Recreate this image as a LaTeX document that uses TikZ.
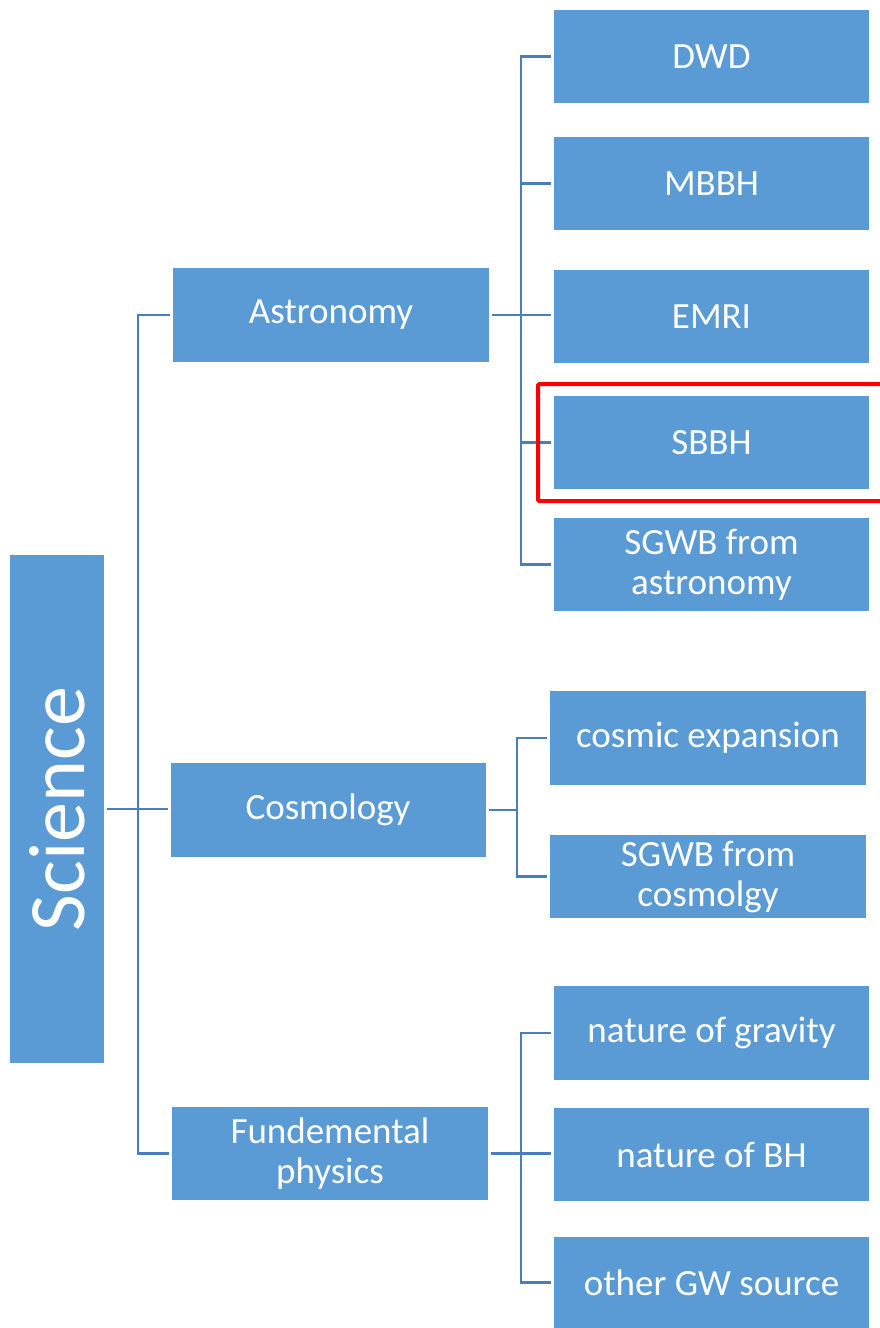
\documentclass[tikz,border=0pt]{standalone}
\usepackage{fontspec}
\setmainfont{Carlito}
\definecolor{boxblue}{RGB}{91,155,213}
\definecolor{linkblue}{RGB}{74,126,187}
\definecolor{hired}{RGB}{255,0,0}
\tikzset{
  leaf/.style={fill=boxblue, draw=none, text=white, inner sep=0pt, outer sep=3pt,
    minimum width=316pt, minimum height=94pt, align=center,
    font=\fontsize{37}{40}\selectfont},
  link/.style={draw=linkblue, line width=2.2pt},
}
\begin{document}
\begin{tikzpicture}[x=1pt,y=-1pt]
\useasboundingbox (0,0) rectangle (880,1328);
\clip (0,0) rectangle (880,1328);
% root
\node[leaf, minimum width=94pt, minimum height=508pt] (sci) at (57,809)
  {\rotatebox{90}{\fontsize{80}{96}\selectfont Science}};
% level 1
\node[leaf] (ast) at (331,315) {Astronomy};
\node[leaf, minimum width=315pt] (cos) at (328,810) {Cosmology};
\node[leaf, minimum height=93pt] (fun) at (330,1153.5) {Fundemental\\physics};
% astronomy children
\node[leaf, minimum width=315pt, minimum height=93pt] (dwd) at (711.5,56.5) {DWD};
\node[leaf, minimum width=315pt, minimum height=93pt] (mbbh) at (711.5,183.5) {MBBH};
\node[leaf, minimum width=315pt, minimum height=93pt] (emri) at (711.5,316.5) {EMRI};
\node[leaf, minimum width=315pt, minimum height=93pt] (sbbh) at (711.5,442.5) {SBBH};
\node[leaf, minimum width=315pt, minimum height=93pt] (sgwba) at (711.5,564.5) {SGWB from\\astronomy};
% cosmology children
\node[leaf] (cexp) at (708,738) {cosmic expansion};
\node[leaf, minimum height=83pt] (sgwbc) at (708,876.5) {SGWB from\\cosmolgy};
% fundamental children
\node[leaf, minimum width=315pt] (grav) at (711.5,1033) {nature of gravity};
\node[leaf, minimum width=315pt, minimum height=93pt] (bh) at (711.5,1154.5) {nature of BH};
\node[leaf, minimum width=315pt, minimum height=91pt] (ogw) at (711.5,1282.5) {other GW source};
% trunk coordinates
\coordinate (t0) at (138,0);
\coordinate (ta) at (521,0);
\coordinate (tc) at (517,0);
% connectors root
\draw[link] (sci.east) -- (sci.east -| cos.west);
\draw[link] (ast.west) -- (ast.west -| t0) -- (fun.west -| t0) -- (fun.west);
% astronomy
\draw[link] (ast.east) -- (ast.east -| emri.west);
\draw[link] (dwd.west) -- (dwd.west -| ta) -- (sgwba.west -| ta) -- (sgwba.west);
\draw[link] (mbbh.west -| ta) -- (mbbh.west);
\draw[link] (sbbh.west -| ta) -- (sbbh.west);
% cosmology
\draw[link] (cos.east) -- (cos.east -| tc);
\draw[link] (cexp.west) -- (cexp.west -| tc) -- (sgwbc.west -| tc) -- (sgwbc.west);
% fundamental
\draw[link] (fun.east) -- (fun.east -| bh.west);
\draw[link] (grav.west) -- (grav.west -| ta) -- (ogw.west -| ta) -- (ogw.west);
% highlight
\draw[hired, line width=4pt, rounded corners=1.5pt] (538,384) rectangle (900,501);
\end{tikzpicture}
\end{document}
